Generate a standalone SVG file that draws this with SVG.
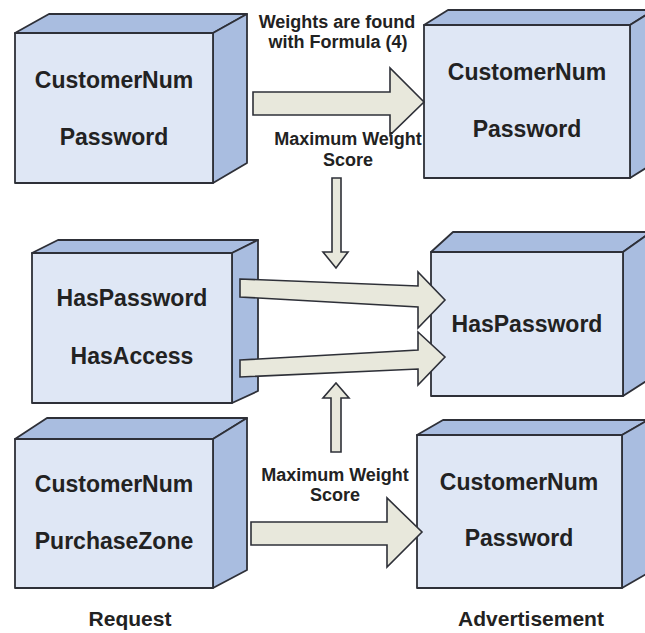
<svg xmlns="http://www.w3.org/2000/svg" width="645" height="633" viewBox="0 0 645 633">
  <style>
    .front { fill: #dfe7f5; stroke: #2e3038; stroke-width: 1.8; stroke-linejoin: round; }
    .side  { fill: #a9bde0; stroke: #2e3038; stroke-width: 1.8; stroke-linejoin: round; }
    .arrow { fill: #e8e8dc; stroke: #2e3038; stroke-width: 1.6; stroke-linejoin: miter; }
    .node  { font-family: "Liberation Sans", Arial, sans-serif; font-weight: bold; font-size: 23px; fill: #222; text-anchor: middle; }
    .label { font-family: "Liberation Sans", Arial, sans-serif; font-weight: bold; font-size: 18px; fill: #222; text-anchor: middle; }
    .caption { font-family: "Liberation Sans", Arial, sans-serif; font-weight: bold; font-size: 21px; fill: #222; text-anchor: middle; }
  </style>
  <rect width="645" height="633" fill="#ffffff"/>

  <!-- Request: CustomerNum / Password -->
  <g id="req-top">
    <polygon class="side" points="15,33 49,14 247,14 213,33"/>
    <polygon class="side" points="213,33 247,14 247,163 213,183"/>
    <rect class="front" x="15" y="33" width="198" height="150"/>
    <text class="node" x="114" y="88">CustomerNum</text>
    <text class="node" x="114" y="145">Password</text>
  </g>

  <!-- Advertisement: CustomerNum / Password -->
  <g id="adv-top">
    <polygon class="side" points="424,25 448,10 654,10 630,25"/>
    <polygon class="side" points="630,25 654,10 654,163 630,178"/>
    <rect class="front" x="424" y="25" width="206" height="153"/>
    <text class="node" x="527" y="80">CustomerNum</text>
    <text class="node" x="527" y="137">Password</text>
  </g>

  <!-- Request: HasPassword / HasAccess -->
  <g id="req-mid">
    <polygon class="side" points="32,253 58,240 258,240 232,253"/>
    <polygon class="side" points="232,253 258,240 258,391 232,403"/>
    <rect class="front" x="32" y="253" width="200" height="150"/>
    <text class="node" x="132" y="306">HasPassword</text>
    <text class="node" x="132" y="364">HasAccess</text>
  </g>

  <!-- Advertisement: HasPassword -->
  <g id="adv-mid">
    <polygon class="side" points="431,252 453,232 651,232 623,252"/>
    <polygon class="side" points="623,252 651,232 651,378 623,396"/>
    <rect class="front" x="431" y="252" width="192" height="144"/>
    <text class="node" x="527" y="332">HasPassword</text>
  </g>

  <!-- Request: CustomerNum / PurchaseZone -->
  <g id="req-bot">
    <polygon class="side" points="15,439 47,418 247,418 213,439"/>
    <polygon class="side" points="213,439 247,418 247,570 213,588"/>
    <rect class="front" x="15" y="439" width="198" height="149"/>
    <text class="node" x="114" y="492">CustomerNum</text>
    <text class="node" x="114" y="549">PurchaseZone</text>
  </g>

  <!-- Advertisement: CustomerNum / Password -->
  <g id="adv-bot">
    <polygon class="side" points="417,435 443,420 648,420 622,435"/>
    <polygon class="side" points="622,435 648,420 648,573 622,588"/>
    <rect class="front" x="417" y="435" width="205" height="153"/>
    <text class="node" x="519" y="490">CustomerNum</text>
    <text class="node" x="519" y="546">Password</text>
  </g>

  <!-- Block arrows -->
  <g id="connectors">
    <polygon class="arrow" points="253,92 390,92 390,68 424,102 390,135 390,115 253,115"/>
    <polygon class="arrow" points="332,178 341,178 341,252 348,252 336,268 323,252 332,252"/>
    <polygon class="arrow" points="240,279 418,286 418,272 445,300 418,328 418,307 240,297"/>
    <polygon class="arrow" points="240,360 418,350 418,332 445,357 418,385 418,369 240,377"/>
    <polygon class="arrow" points="331,452 341,452 341,398 349,398 336,383 323,398 331,398"/>
    <polygon class="arrow" points="251,522 387,522 387,498 422,532 387,567 387,545 251,545"/>
  </g>

  <!-- Arrow labels -->
  <g id="labels">
    <text class="label" x="337" y="28">Weights are found</text>
    <text class="label" x="338" y="48">with Formula (4)</text>
    <text class="label" x="348" y="145">Maximum Weight</text>
    <text class="label" x="348" y="166">Score</text>
    <text class="label" x="335" y="481">Maximum Weight</text>
    <text class="label" x="335" y="501">Score</text>
    <text class="caption" x="130" y="626">Request</text>
    <text class="caption" x="531" y="626">Advertisement</text>
  </g>
</svg>
